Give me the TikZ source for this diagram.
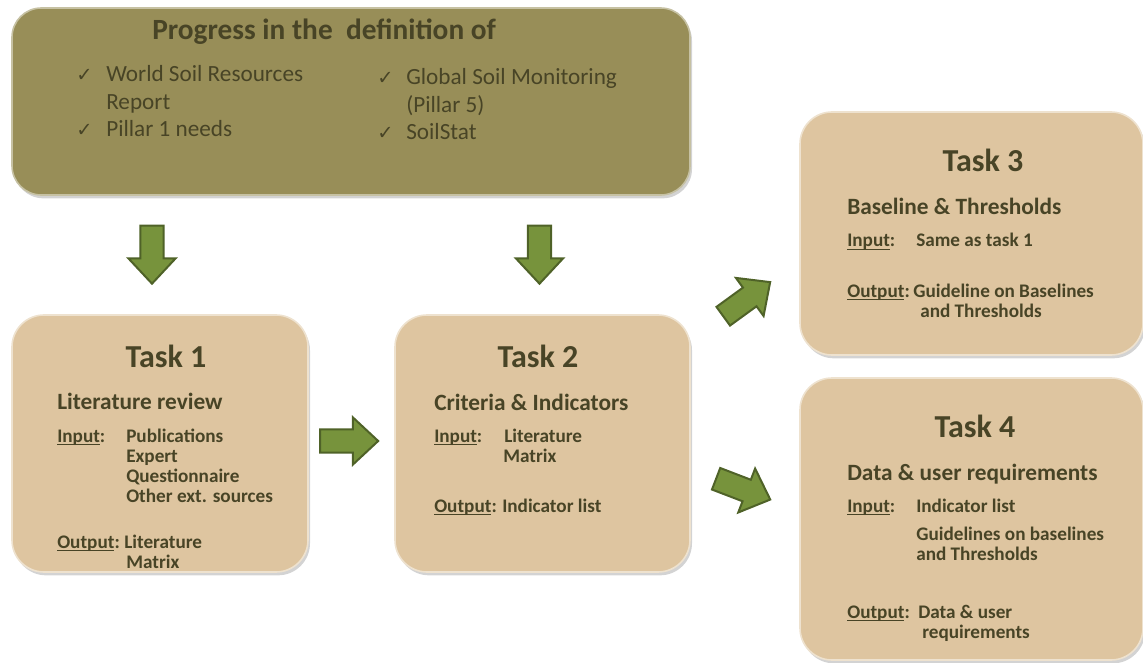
\documentclass[tikz,border=0pt]{standalone}
\usepackage{fontspec}
\setmainfont{Carlito}
\newfontfamily\tickfont{DejaVu Sans}
\usetikzlibrary{calc}
\usetikzlibrary{shapes.arrows}
\usetikzlibrary{shadows}

\definecolor{olivebox}{RGB}{152,142,88}
\definecolor{taskbeige}{RGB}{222,197,160}
\definecolor{inkdark}{RGB}{72,68,38}
\definecolor{arrowgreen}{RGB}{119,147,60}
\definecolor{arrowdark}{RGB}{79,98,40}

% underline close to the baseline
\newcommand\inkul[1]{\setbox0\hbox{#1}\rlap{\rule[-2pt]{\wd0}{0.7pt}}\box0}

\begin{document}
\begin{tikzpicture}[x=0.75pt,y=-0.75pt,
	topbox/.style={rounded corners=22pt,fill=olivebox,draw=olivebox!55!white,line width=1.2pt,inner sep=0pt,
		drop shadow={shadow xshift=1.5pt,shadow yshift=-2.5pt,opacity=0.35}},
	taskbox/.style={rounded corners=24pt,fill=taskbeige,draw=taskbeige!50!white,line width=1.2pt,inner sep=0pt,
		drop shadow={shadow xshift=1.5pt,shadow yshift=-2.5pt,opacity=0.35}},
	toptitle/.style={anchor=base west,inner sep=0pt,text=inkdark,font=\fontsize{22}{26}\selectfont\bfseries},
	item/.style={anchor=base west,inner sep=0pt,text=inkdark,font=\fontsize{17.4}{21}\selectfont},
	tick/.style={anchor=base west,inner sep=0pt,text=inkdark,font=\tickfont\fontsize{14.5}{16}\selectfont},
	tasktitle/.style={anchor=base,inner sep=0pt,text=inkdark,font=\fontsize{24}{28}\selectfont\bfseries},
	subtitle/.style={anchor=base west,inner sep=0pt,text=inkdark,font=\fontsize{17.5}{21}\selectfont\bfseries},
	body/.style={anchor=base west,inner sep=0pt,text=inkdark,font=\fontsize{14.4}{17}\selectfont\bfseries},
	blockarrow/.style={single arrow,fill=arrowgreen,draw=arrowdark,line width=1.5pt,inner xsep=0pt,inner ysep=7.9pt,
		minimum height=43.5pt,minimum width=33.75pt,single arrow head extend=9pt,single arrow tip angle=86}]
	\useasboundingbox (0,0) rectangle (1143,663);

	% boxes
	\node[topbox,minimum width=508.5pt,minimum height=140.25pt] (progress) at (351,101.5) {};
	\node[taskbox,minimum width=222pt,minimum height=192.75pt] (t1box) at (160,443.5) {};
	\node[taskbox,minimum width=221.25pt,minimum height=192.75pt] (t2box) at (542.5,443.5) {};
	\node[taskbox,minimum width=257.25pt,minimum height=182.25pt] (t3box) at (971.5,233.5) {};
	\node[taskbox,minimum width=257.25pt,minimum height=211.5pt] (t4box) at (971.5,519) {};

	% progress box
	\node[toptitle] (ptitle) at (152,40) {Progress in the\ \ definition of};
	\node[tick] (pck1) at (76,82) {✓};
	\node[item] (pit1) at (106,82) {World Soil Resources};
	\node[item] (pit1b) at (106,110) {Report};
	\node[tick] (pck2) at (76,137) {✓};
	\node[item] (pit2) at (106,137) {Pillar 1 needs};
	\node[tick] (pck3) at (377,85) {✓};
	\node[item] (pit3) at (406,85) {Global Soil Monitoring};
	\node[item] (pit3b) at (406,113) {(Pillar 5)};
	\node[tick] (pck4) at (377,140) {✓};
	\node[item] (pit4) at (406,140) {SoilStat};

	% task 1
	\node[tasktitle] (t1title) at (166,367) {Task 1};
	\node[subtitle] (t1sub) at (57,409) {Literature review};
	\node[body] (t1in) at (57,442) {\inkul{Input}:};
	\foreach \txt [count=\i] in {Publications,Expert,Questionnaire,Other ext. sources}
		\node[body] (t1in\i) at (126,442+20.3*\i-20.3) {\txt};
	\node[body] (t1out) at (57,548) {\inkul{Output}:};
	\node[body] (t1out1) at (124,548) {Literature};
	\node[body] (t1out2) at (126,568) {Matrix};

	% task 2
	\node[tasktitle] (t2title) at (538,367) {Task 2};
	\node[subtitle] (t2sub) at (434,410) {Criteria \& Indicators};
	\node[body] (t2in) at (434,442) {\inkul{Input}:};
	\node[body] (t2in1) at (504,442) {Literature};
	\node[body] (t2in2) at (503,462) {Matrix};
	\node[body] (t2out) at (434,512) {\inkul{Output}:};
	\node[body] (t2out1) at (502,512) {Indicator list};

	% task 3
	\node[tasktitle] (t3title) at (983,172) {Task 3};
	\node[subtitle] (t3sub) at (847,215) {Baseline \& Thresholds};
	\node[body] (t3in) at (847,247) {\inkul{Input}:};
	\node[body] (t3in1) at (916,247) {Same as task 1};
	\node[body] (t3out) at (847,297) {\inkul{Output}:};
	\node[body] (t3out1) at (913,297) {Guideline on Baselines};
	\node[body] (t3out2) at (920,317) {and Thresholds};

	% task 4
	\node[tasktitle] (t4title) at (975,437) {Task 4};
	\node[subtitle] (t4sub) at (847,480) {Data \& user requirements};
	\node[body] (t4in) at (847,512) {\inkul{Input}:};
	\node[body] (t4in1) at (916,512) {Indicator list};
	\node[body] (t4in2) at (916,540) {Guidelines on baselines};
	\node[body] (t4in3) at (916,560) {and Thresholds};
	\node[body] (t4out) at (847,618) {\inkul{Output}:};
	\node[body] (t4out1) at (918,618) {Data \& user};
	\node[body] (t4out2) at (922,638) {requirements};

	% block arrows
	\node[blockarrow,rotate=-90] (down1) at ($(progress.south -| t1box.north)!0.5!(t1box.north)+(-8,-6.5)$) {};
	\node[blockarrow,rotate=-90] (down2) at ($(progress.south -| t2box.north)!0.5!(t2box.north)+(-3,-6.5)$) {};
	\node[blockarrow] (right12) at ($(t1box.east)!0.5!(t2box.west)+(-8.5,-2.5)$) {};
	\node[blockarrow,rotate=36] (up23) at ($(t2box.north east)!0.5!(t3box.south west)+(-3.3,-32.2)$) {};
	\node[blockarrow,rotate=-21] (down24) at ($(t2box.east)!0.5!(t4box.west)+(-7.6,5.7)$) {};
\end{tikzpicture}
\end{document}
